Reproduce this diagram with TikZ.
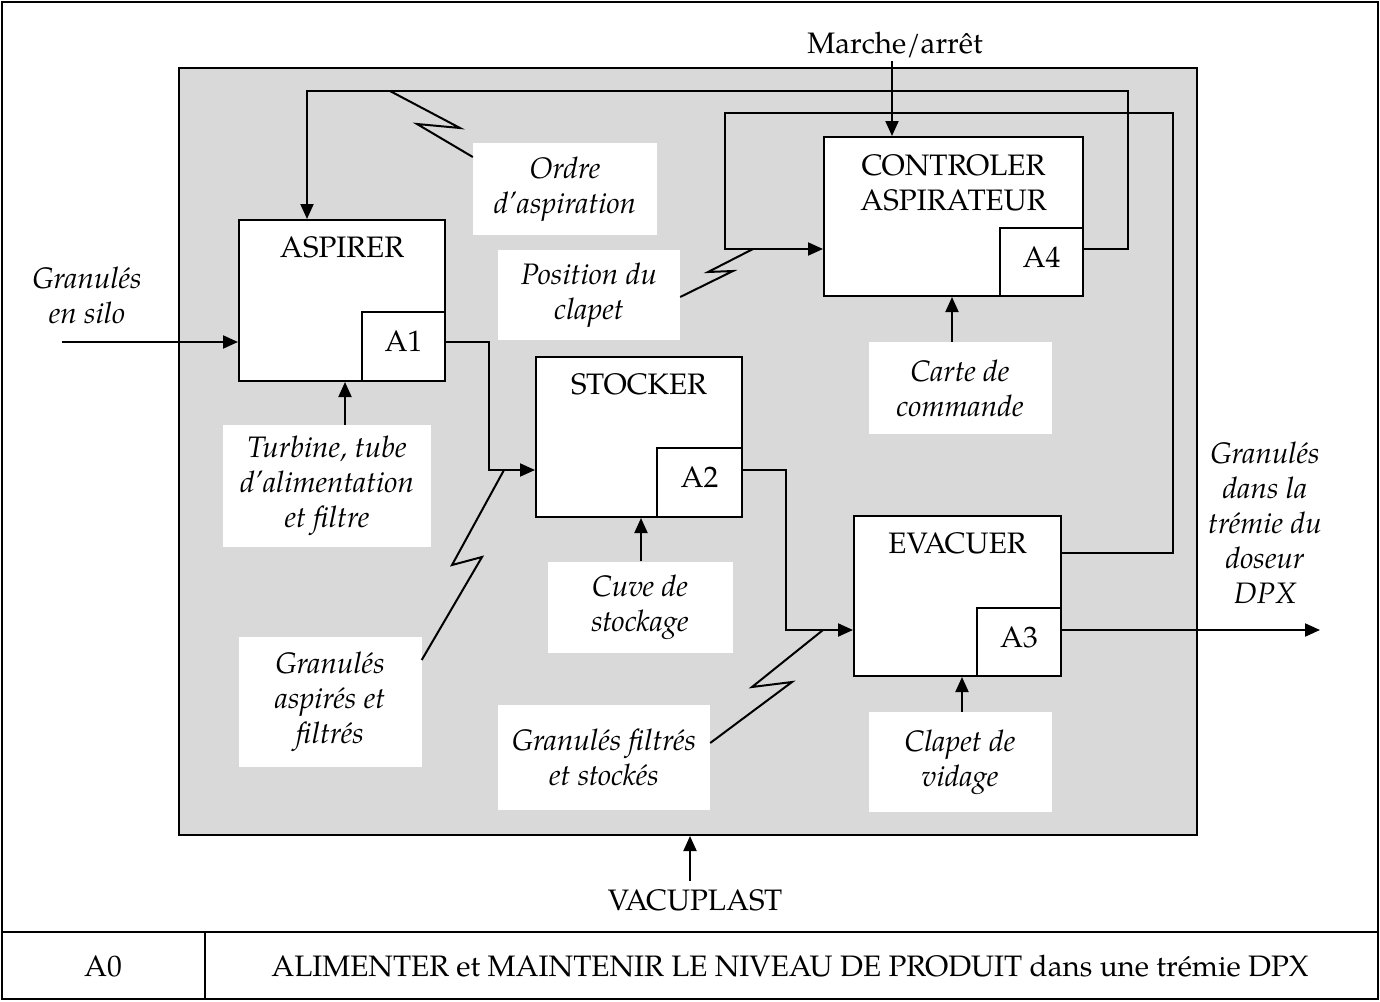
\documentclass[tikz,border=0pt]{standalone}
\usepackage{fontspec}
\setmainfont{TeX Gyre Pagella}
\usetikzlibrary{arrows.meta}
\begin{document}
\begin{tikzpicture}[x=1pt,y=-1pt,font=\fontsize{29.6}{35}\selectfont,
  box/.style={draw,line width=2pt,fill=white,inner sep=0pt},
  subbox/.style={draw,line width=2pt,fill=white,inner sep=0pt,minimum width=83pt,minimum height=69pt,anchor=south east,text depth=10pt},
  lbl/.style={fill=white,font=\fontsize{29.6}{35}\selectfont\itshape,align=center,inner sep=0pt},
  txt/.style={inner sep=0pt,align=center},
  ln/.style={line width=2pt},
  arr/.style={line width=2pt,-{Triangle[length=15pt,width=13pt]}}]
\useasboundingbox (0,0) rectangle (1380,1001);
% frame
\draw[ln] (2,2) rectangle (1378,999);
\draw[line width=2.6pt] (2,932) -- (1378,932);
\draw[ln] (205,932) -- (205,999);
\node[txt] (a0) at (103,966) {A0};
\node[txt] (title) at (790,966) {ALIMENTER et MAINTENIR LE NIVEAU DE PRODUIT dans une trémie DPX};
% grey area
\node[draw,line width=2pt,fill=black!15,minimum width=1018pt,minimum height=767pt,anchor=north west,inner sep=0pt] (grey) at (178,67) {};
% label boxes
\node[lbl,minimum width=184pt,minimum height=92pt] (ordre) at (565,189) {Ordre\\d'aspiration};
\node[lbl,minimum width=182pt,minimum height=90pt] (pos) at (589,295) {Position du\\clapet};
\node[lbl,minimum width=208pt,minimum height=122pt] (turb) at (327,486) {Turbine, tube\\d'alimentation\\et filtre};
\node[lbl,minimum width=183pt,minimum height=92pt] (carte) at (960,388) {Carte de\\commande};
\node[lbl,minimum width=185pt,minimum height=91pt] (cuve) at (640,607) {Cuve de\\stockage};
\node[lbl,minimum width=183pt,minimum height=130pt] (gasp) at (330,702) {Granulés\\aspirés et\\filtrés};
\node[lbl,minimum width=212pt,minimum height=105pt] (gfil) at (604,757) {Granulés filtrés\\et stockés};
\node[lbl,minimum width=183pt,minimum height=100pt] (clap) at (960,762) {Clapet de\\vidage};
% activity boxes
\node[box,minimum width=206pt,minimum height=161pt,anchor=north west] (asp) at (238,219) {};
\node[txt,anchor=base] (aspt) at ([yshift=-38pt]asp.north) {ASPIRER};
\node[subbox] (a1) at (asp.south east) {A1};
\node[box,minimum width=206pt,minimum height=160pt,anchor=north west] (sto) at (535,356) {};
\node[txt,anchor=base] (stot) at ([yshift=-38pt]sto.north) {STOCKER};
\node[subbox,minimum width=85pt] (a2) at (sto.south east) {A2};
\node[box,minimum width=207pt,minimum height=160pt,anchor=north west] (eva) at (853,515) {};
\node[txt,anchor=base] (evat) at ([yshift=-38pt]eva.north) {EVACUER};
\node[subbox,minimum width=84pt,minimum height=68pt] (a3) at (eva.south east) {A3};
\node[box,minimum width=259pt,minimum height=159pt,anchor=north west] (ctl) at (823,136) {};
\node[txt,anchor=base] (ctlt) at ([yshift=-74pt]ctl.north) {CONTROLER\\ASPIRATEUR};
\node[subbox,minimum height=68pt] (a4) at (ctl.south east) {A4};
% external labels
\node[lbl,fill=none] (silo) at (87,295) {Granulés\\en silo};
\node[lbl,fill=none] (dpx) at (1265,523) {Granulés\\dans la\\trémie du\\doseur\\DPX};
\node[txt] (marche) at (895,45) {Marche/arrêt};
\node[txt] (vacu) at (695,900) {VACUPLAST};
\coordinate (siloin) at (62,342);
\coordinate (dpxout) at (1320,630);
% connectors
\draw[arr] (siloin) -- (siloin -| asp.west);
\draw[arr] (turb.north -| 345,0) -- (asp.south -| 345,0);
\draw[arr] (a4.east |- 0,249) -- (1128,249) -- (1128,91) -- (307,91) -- (asp.north -| 307,0);
\draw[arr] (eva.east |- 0,553) -- (1173,553) -- (1173,113) -- (725,113) -- (725,249) -- (ctl.west |- 0,249);
\draw[arr] (marche.south -| 892,0) ++(0,3) -- (ctl.north -| 892,0);
\draw[arr] (carte.north -| 952,0) -- (ctl.south -| 952,0);
\draw[arr] (a1.east |- 0,342) -- (489,342) -- (489,470) -- (sto.west |- 0,470);
\draw[arr] (cuve.north -| 641,0) -- (sto.south -| 641,0);
\draw[arr] (a2.east |- 0,470) -- (786,470) -- (786,630) -- (eva.west |- 0,630);
\draw[arr] (clap.north -| 962,0) -- (eva.south -| 962,0);
\draw[arr] (a3.east |- 0,630) -- (dpxout);
\draw[arr] (vacu.north -| 690,0) ++(0,-8) -- (grey.south -| 690,0);
% lightning links
\draw[ln] (390,91) -- (460,128) -- (417,124) -- (ordre.north west |- 0,157);
\draw[ln] (753,249) -- (708,272) -- (733,271) -- (pos.east |- 0,297);
\draw[ln] (504,470) -- (452,565) -- (482,557) -- (gasp.north east |- 0,660);
\draw[ln] (823,630) -- (752,687) -- (792,682) -- (gfil.east |- 0,743);
\end{tikzpicture}
\end{document}
